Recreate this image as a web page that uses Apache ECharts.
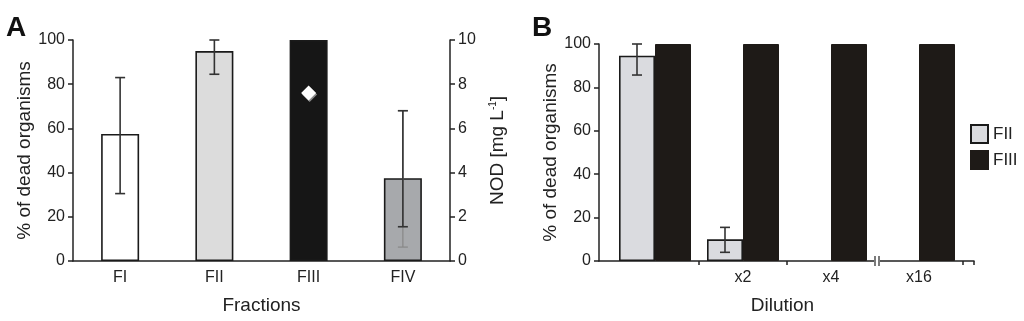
<!DOCTYPE html>
<html><head><meta charset="utf-8">
<script src="https://cdn.jsdelivr.net/npm/echarts@6/dist/echarts.min.js"></script>
<style>html,body{margin:0;padding:0;background:#fff}#c{width:1024px;height:321px}</style>
</head><body><div id="c"></div>
<script>
// Panel A data
const fractions = ['FI', 'FII', 'FIII', 'FIV'];
const deadA = [57.5, 95, 100, 37.5];
const deadAColors = ['#ffffff', '#dcdcdc', '#161616', '#a7a9ac'];
const errALow = [30.5, 84.5, null, 15.5];
const errAHigh = [83, 100, null, 68];
const errAFaintLow = [null, null, null, 6.3];
const errAFaintHigh = [null, null, null, 68];
const nodA = ['-', '-', 7.6, '-'];
// Panel B data
const dilutions = ['', 'x2', 'x4', 'x16'];
const deadB_FII = [94.6, 10, '-', '-'];
const deadB_FIII = [100, 100, 100, 100];
const errBLow = [85.7, 4, null, null];
const errBHigh = [100, 15.5, null, null];

const FONT = 'Liberation Sans, Arial, sans-serif';
const TXT = '#222';

function errRender(color, lw) {
  return function (params, api) {
    const lo = api.value(1), hi = api.value(2);
    if (lo == null || hi == null || isNaN(lo) || isNaN(hi)) return;
    const p1 = api.coord([api.value(0), lo]);
    const p2 = api.coord([api.value(0), hi]);
    const cap = 5;
    const st = { stroke: color, lineWidth: lw };
    return { type: 'group', children: [
      { type: 'line', shape: { x1: p1[0], y1: p1[1], x2: p2[0], y2: p2[1] }, style: st },
      { type: 'line', shape: { x1: p1[0] - cap, y1: p1[1], x2: p1[0] + cap, y2: p1[1] }, style: st },
      { type: 'line', shape: { x1: p2[0] - cap, y1: p2[1], x2: p2[0] + cap, y2: p2[1] }, style: st }
    ]};
  };
}
function errData(cats, lo, hi) {
  return cats.map((c, i) => [i, lo[i], hi[i]]);
}

const axisLineStyle = { lineStyle: { color: '#222', width: 1.5 } };
const yLabel = { color: TXT, fontSize: 16, fontFamily: FONT, margin: 8 };

const chart = echarts.init(document.getElementById('c'));
chart.setOption({
  animation: false,
  textStyle: { fontFamily: FONT },
  title: [
    { text: 'A', left: 1, top: 9, textStyle: { fontSize: 28, fontWeight: 'bold', color: '#111', fontFamily: FONT } },
    { text: 'B', left: 527, top: 9, textStyle: { fontSize: 28, fontWeight: 'bold', color: '#111', fontFamily: FONT } }
  ],
  legend: {
    data: ['FII', 'FIII'], orient: 'vertical', left: 965, top: 119,
    itemWidth: 17, itemHeight: 18, itemGap: 6, icon: 'rect',
    textStyle: { color: TXT, fontSize: 17, fontFamily: FONT }
  },
  grid: [
    { left: 73, width: 377, top: 40, height: 221, outerBoundsMode: 'none', containLabel: false },
    { left: 599, width: 375, top: 44, height: 217, outerBoundsMode: 'none', containLabel: false },
    { left: 611, width: 352, top: 44, height: 217, outerBoundsMode: 'none', containLabel: false }
  ],
  xAxis: [
    { type: 'category', gridIndex: 0, data: fractions, axisLine: axisLineStyle,
      axisTick: { length: 4, lineStyle: { color: '#222', width: 1.5 } },
      axisLabel: { color: TXT, fontSize: 16, fontFamily: FONT, margin: 9 },
      name: 'Fractions', nameLocation: 'middle', nameGap: 35,
      nameTextStyle: { color: TXT, fontSize: 19, fontFamily: FONT } },
    { type: 'value', gridIndex: 1, min: 0, max: 1, show: true, axisLine: axisLineStyle,
      axisTick: { show: false }, axisLabel: { show: false }, splitLine: { show: false },
      name: 'Dilution', nameLocation: 'middle', nameGap: 35,
      nameTextStyle: { color: TXT, fontSize: 19, fontFamily: FONT, padding: [0, 0, 0, -8] } },
    { type: 'category', gridIndex: 2, data: dilutions, axisLine: { show: false },
      axisTick: { show: true, length: 4, lineStyle: { color: '#222', width: 1.5 }, interval: (i) => i > 0 && i < 3 },
      axisLabel: { color: TXT, fontSize: 16, fontFamily: FONT, margin: 9 } }
  ],
  yAxis: [
    { type: 'value', gridIndex: 0, min: 0, max: 100, interval: 20, axisLine: { show: true, ...axisLineStyle },
      axisTick: { show: true, inside: false, length: 5, lineStyle: { color: '#222', width: 1.5 } },
      axisLabel: yLabel, splitLine: { show: false },
      name: '% of dead organisms', nameLocation: 'middle', nameGap: 30, nameRotate: 90,
      nameTextStyle: { color: TXT, fontSize: 19, fontFamily: FONT } },
    { type: 'value', gridIndex: 0, position: 'right', min: 0, max: 10, interval: 2,
      axisLine: { show: true, ...axisLineStyle },
      axisTick: { show: true, length: 5, lineStyle: { color: '#222', width: 1.5 } },
      axisLabel: yLabel, splitLine: { show: false },
      name: '{a|NOD [mg L}{s|-1}{a|]}', nameLocation: 'middle', nameGap: 38, nameRotate: 90,
      nameTextStyle: { rich: { a: { color: TXT, fontSize: 19, fontFamily: FONT },
        s: { color: TXT, fontSize: 10, fontFamily: FONT, verticalAlign: 'top', padding: [0, 0, 8, 0] } } } },
    { type: 'value', gridIndex: 1, min: 0, max: 100, interval: 20, axisLine: { show: true, ...axisLineStyle },
      axisTick: { show: true, length: 5, lineStyle: { color: '#222', width: 1.5 } },
      axisLabel: yLabel, splitLine: { show: false },
      name: '% of dead organisms', nameLocation: 'middle', nameGap: 30, nameRotate: 90,
      nameTextStyle: { color: TXT, fontSize: 19, fontFamily: FONT } },
    { type: 'value', gridIndex: 2, min: 0, max: 100, show: false }
  ],
  series: [
    { type: 'bar', xAxisIndex: 0, yAxisIndex: 0, barWidth: 38,
      data: deadA.map((v, i) => ({ value: v, itemStyle: { color: deadAColors[i] } })),
      itemStyle: { borderColor: '#1a1a1a', borderWidth: 1.6 } },
    { type: 'custom', xAxisIndex: 0, yAxisIndex: 0, renderItem: errRender('#888', 1.2),
      data: errData(fractions, errAFaintLow, errAFaintHigh), z: 5 },
    { type: 'custom', xAxisIndex: 0, yAxisIndex: 0, renderItem: errRender('#333', 1.6),
      data: errData(fractions, errALow, errAHigh), z: 6 },
    { type: 'scatter', xAxisIndex: 0, yAxisIndex: 1, symbol: 'diamond', symbolSize: [15, 15],
      data: nodA, itemStyle: { color: '#ffffff', opacity: 1, shadowColor: 'rgba(150,150,150,0.9)', shadowBlur: 0, shadowOffsetX: 1, shadowOffsetY: 1.5 }, z: 7 },
    { name: 'FII', type: 'bar', xAxisIndex: 2, yAxisIndex: 3, barWidth: 36, barGap: '0%',
      data: deadB_FII, itemStyle: { color: '#dadbdf', borderColor: '#1a1a1a', borderWidth: 1.6 } },
    { name: 'FIII', type: 'bar', xAxisIndex: 2, yAxisIndex: 3, barWidth: 36, barGap: '0%',
      data: deadB_FIII, itemStyle: { color: '#1e1a17', borderColor: '#1e1a17', borderWidth: 1 } },
    { type: 'custom', xAxisIndex: 2, yAxisIndex: 3, renderItem: (p, api) => {
        const r = errRender('#333', 1.6)(p, api); if (!r) return;
        const off = -18; r.children.forEach(c => { c.shape.x1 += off; c.shape.x2 += off; }); return r; },
      data: errData(dilutions, errBLow, errBHigh), z: 6 }
  ]
});

// axis break marker on panel B x axis, between x4 and x16
const pA = chart.convertToPixel({ xAxisIndex: 2, yAxisIndex: 3 }, [2, 0]);
const pB = chart.convertToPixel({ xAxisIndex: 2, yAxisIndex: 3 }, [3, 0]);
const bx = (pA[0] + pB[0]) / 2 + 2, by = pA[1];
// tick at right end of the extended axis line
const pR = chart.convertToPixel({ xAxisIndex: 1, yAxisIndex: 2 }, [1, 0]);
chart.setOption({ graphic: [
  { type: 'rect', shape: { x: bx - 3, y: by - 3, width: 6, height: 6 }, style: { fill: '#fff' }, z: 100 },
  { type: 'line', shape: { x1: bx - 2, y1: by - 5, x2: bx - 2, y2: by + 5 }, style: { stroke: '#333', lineWidth: 1.3 }, z: 101 },
  { type: 'line', shape: { x1: bx + 2, y1: by - 5, x2: bx + 2, y2: by + 5 }, style: { stroke: '#333', lineWidth: 1.3 }, z: 101 },
  { type: 'line', shape: { x1: pR[0], y1: by, x2: pR[0], y2: by + 4 }, style: { stroke: '#222', lineWidth: 1.5 }, z: 101 }
]});
</script></body></html>
